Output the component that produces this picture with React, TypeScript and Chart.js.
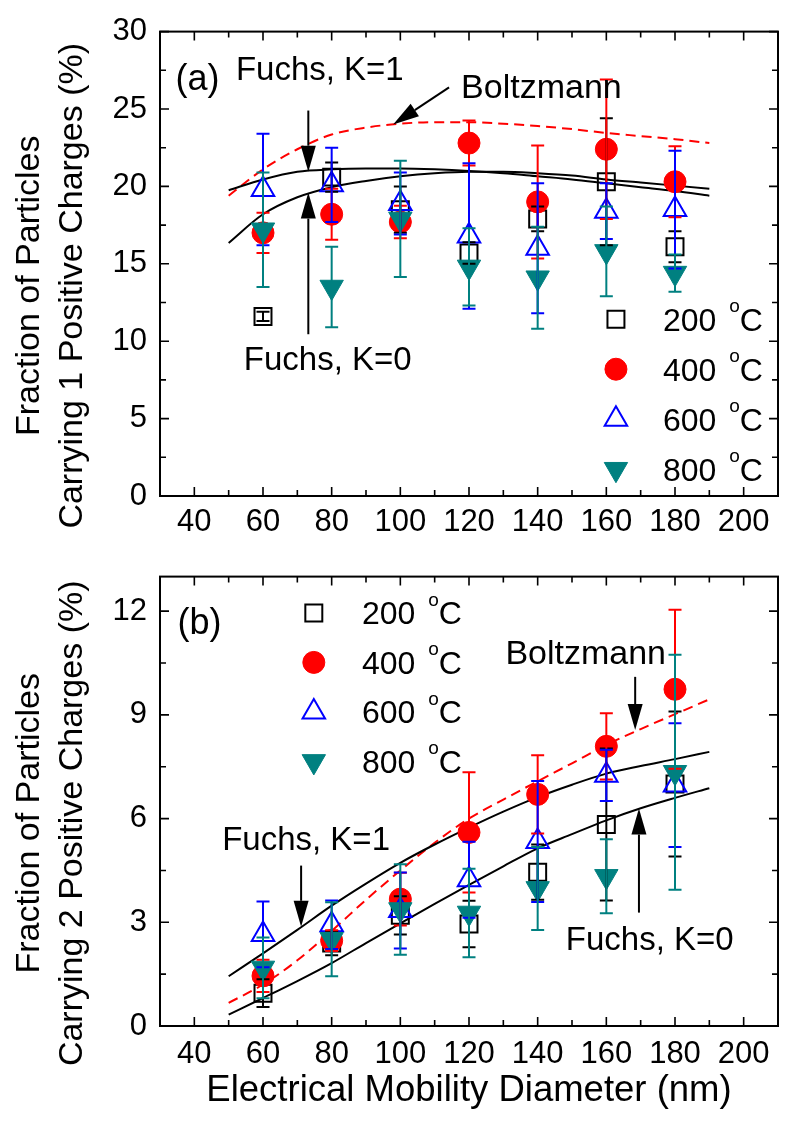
import React, { useEffect, useRef } from 'react';
import { Chart, registerables } from 'chart.js';

Chart.register(...registerables);

const FONT = '"Liberation Sans", Arial, Helvetica, sans-serif';
Chart.defaults.font.family = FONT;
Chart.defaults.color = '#000000';

// ---------- data ----------
const diameters = [60, 80, 100, 120, 140, 160, 180];
const curveDiameters = [50, 60, 70, 80, 90, 100, 110, 120, 130, 140, 150, 160, 170, 180, 190];
const xTickValues = [40, 60, 80, 100, 120, 140, 160, 180, 200];
const seriesLabels = ['200', '400', '600', '800'];

// panel (a): fraction carrying 1 positive charge (%)
const aTicks = [0, 5, 10, 15, 20, 25, 30];
const a200 = [11.6, 20.6, 18.5, 15.7, 17.9, 20.3, 16.1];
const a200Err = [0.3, 0.95, 1.5, 0.7, 0.8, 4.1, 1.0];
const a400 = [17.0, 18.2, 17.7, 22.8, 19.0, 22.4, 20.3];
const a400Err = [1.3, 1.65, 1.05, 1.45, 3.65, 4.5, 2.3];
const a600 = [19.8, 20.1, 18.9, 16.8, 16.0, 18.4, 18.5];
const a600Err = [3.6, 2.4, 2.0, 4.7, 4.2, 1.8, 3.8];
const a800 = [17.2, 13.5, 17.9, 14.8, 14.1, 15.8, 14.4];
const a800Err = [3.7, 2.6, 3.75, 2.5, 3.3, 2.9, 1.2];
const aFuchsK1 = [19.75, 20.45, 20.95, 21.1, 21.15, 21.15, 21.1, 21.0, 20.85, 20.65, 20.45, 20.2, 19.95, 19.7, 19.4];
const aFuchsK0 = [16.35, 18.2, 19.3, 19.95, 20.35, 20.65, 20.85, 20.95, 20.95, 20.85, 20.7, 20.45, 20.25, 20.05, 19.85];
const aBoltzmann = [19.4, 21.1, 22.4, 23.35, 23.8, 24.05, 24.15, 24.15, 24.05, 23.9, 23.7, 23.45, 23.25, 23.05, 22.8];

// panel (b): fraction carrying 2 positive charges (%)
const bTicks = [0, 3, 6, 9, 12];
const b200 = [0.95, 2.4, 3.2, 2.95, 4.45, 5.83, 7.0];
const b200Err = [0.4, 0.35, 0.55, 0.67, 0.8, 2.2, 2.1];
const b400 = [1.45, 2.47, 3.67, 5.6, 6.7, 8.09, 9.74];
const b400Err = [0.47, 0.3, 0.76, 1.74, 1.13, 0.96, 2.3];
const b600 = [2.65, 2.93, 3.34, 4.23, 5.34, 7.25, 6.97];
const b600Err = [0.95, 0.7, 1.1, 1.1, 1.75, 0.74, 1.79];
const b800 = [1.68, 2.51, 3.37, 3.27, 3.98, 4.33, 7.34];
const b800Err = [0.88, 1.07, 1.31, 1.28, 1.2, 1.07, 3.4];
const bFuchsK1 = [1.44, 2.1, 2.78, 3.48, 4.12, 4.72, 5.25, 5.74, 6.2, 6.62, 6.98, 7.3, 7.52, 7.72, 7.93];
const bFuchsK0 = [0.33, 0.81, 1.3, 1.82, 2.4, 2.97, 3.53, 4.08, 4.62, 5.14, 5.55, 5.95, 6.3, 6.6, 6.88];
const bBoltzmann = [0.67, 1.2, 1.9, 2.75, 3.65, 4.5, 5.3, 6.0, 6.55, 7.08, 7.6, 8.13, 8.59, 9.02, 9.45];

const yTitleA = ['Fraction of Particles', 'Carrying 1 Positive Charges (%)'];
const yTitleB = ['Fraction of Particles', 'Carrying 2 Positive Charges (%)'];
const xTitleText = 'Electrical Mobility Diameter (nm)';

// ---------- styles ----------
type Marker = { color: string; shape: 'rect' | 'circle' | 'triangle'; radius: number; filled: boolean; rotation: number };
const markers: Marker[] = [
  { color: '#000000', shape: 'rect', radius: 12, filled: false, rotation: 0 },
  { color: '#ff0000', shape: 'circle', radius: 11, filled: true, rotation: 0 },
  { color: '#0000ff', shape: 'triangle', radius: 13, filled: false, rotation: 0 },
  { color: '#008080', shape: 'triangle', radius: 13.5, filled: true, rotation: 180 },
];

type TextItem = { text: string; x: number; y: number; size: number };
type ArrowItem = { x1: number; y1: number; x2: number; y2: number };
type Panel = {
  height: number;
  topPad: number;
  xAxisHeight: number;
  tickPad: number;
  yMax: number;
  yTicks: number[];
  yTitle: string[];
  xTitle: string | null;
  series: number[][];
  errors: number[][];
  curves: { values: number[]; color: string; dash: number[] }[];
  texts: TextItem[];
  arrows: ArrowItem[];
  legend: { markerX: number; textX: number; firstY: number; step: number };
};

const panelA: Panel = {
  height: 545,
  topPad: 25,
  xAxisHeight: 49,
  tickPad: 8,
  yMax: 30,
  yTicks: aTicks,
  yTitle: yTitleA,
  xTitle: null,
  series: [a200, a400, a600, a800],
  errors: [a200Err, a400Err, a600Err, a800Err],
  curves: [
    { values: aFuchsK1, color: '#000000', dash: [] },
    { values: aFuchsK0, color: '#000000', dash: [] },
    { values: aBoltzmann, color: '#ff0000', dash: [10, 6] },
  ],
  texts: [
    { text: '(a)', x: 34.5, y: 26.2, size: 36 },
    { text: 'Fuchs, K=1', x: 52.1, y: 26.9, size: 33 },
    { text: 'Boltzmann', x: 117.7, y: 25.7, size: 34 },
    { text: 'Fuchs, K=0', x: 54.4, y: 8.15, size: 33 },
  ],
  arrows: [
    { x1: 73.2, y1: 24.9, x2: 73.2, y2: 20.95 },
    { x1: 73.2, y1: 10.45, x2: 73.2, y2: 19.6 },
    { x1: 114.2, y1: 26.4, x2: 97.9, y2: 24.0 },
  ],
  legend: { markerX: 162.8, textX: 176.5, firstY: 11.42, step: 50 },
};

const panelB: Panel = {
  height: 577,
  topPad: 10,
  xAxisHeight: 96,
  tickPad: 10,
  yMax: 13,
  yTicks: bTicks,
  yTitle: yTitleB,
  xTitle: xTitleText,
  series: [b200, b400, b600, b800],
  errors: [b200Err, b400Err, b600Err, b800Err],
  curves: [
    { values: bFuchsK1, color: '#000000', dash: [] },
    { values: bFuchsK0, color: '#000000', dash: [] },
    { values: bBoltzmann, color: '#ff0000', dash: [10, 6] },
  ],
  texts: [
    { text: '(b)', x: 35.1, y: 11.34, size: 36 },
    { text: 'Fuchs, K=1', x: 48.1, y: 5.1, size: 33 },
    { text: 'Boltzmann', x: 130.6, y: 10.46, size: 34 },
    { text: 'Fuchs, K=0', x: 148.2, y: 2.21, size: 33 },
  ],
  arrows: [
    { x1: 71.1, y1: 4.64, x2: 71.1, y2: 2.87 },
    { x1: 168.4, y1: 10.1, x2: 168.4, y2: 8.56 },
    { x1: 169.5, y1: 3.28, x2: 169.5, y2: 6.29 },
  ],
  legend: { markerX: 74.8, textX: 88.8, firstY: 11.95, step: 49.5 },
};

// ---------- drawing helpers ----------
function drawMarker(ctx: CanvasRenderingContext2D, m: Marker, x: number, y: number) {
  ctx.save();
  ctx.beginPath();
  if (m.shape === 'circle') {
    ctx.arc(x, y, m.radius, 0, Math.PI * 2);
  } else if (m.shape === 'rect') {
    const s = Math.SQRT1_2 * m.radius;
    ctx.rect(x - s, y - s, 2 * s, 2 * s);
  } else {
    let rad = (m.rotation * Math.PI) / 180;
    for (let i = 0; i < 3; i++) {
      const px = x + Math.sin(rad) * m.radius;
      const py = y - Math.cos(rad) * m.radius;
      if (i === 0) ctx.moveTo(px, py);
      else ctx.lineTo(px, py);
      rad += (2 * Math.PI) / 3;
    }
    ctx.closePath();
  }
  if (m.filled) {
    ctx.fillStyle = m.color;
    ctx.fill();
  }
  ctx.strokeStyle = m.color;
  ctx.lineWidth = m.filled ? 1 : 2;
  ctx.stroke();
  ctx.restore();
}

function drawArrow(ctx: CanvasRenderingContext2D, x1: number, y1: number, x2: number, y2: number) {
  const ang = Math.atan2(y2 - y1, x2 - x1);
  const headLen = 26;
  const half = 7.5;
  const bx = x2 - headLen * Math.cos(ang);
  const by = y2 - headLen * Math.sin(ang);
  ctx.beginPath();
  ctx.moveTo(x1, y1);
  ctx.lineTo(bx, by);
  ctx.stroke();
  ctx.beginPath();
  ctx.moveTo(x2, y2);
  ctx.lineTo(bx + half * Math.sin(ang), by - half * Math.cos(ang));
  ctx.lineTo(bx - half * Math.sin(ang), by + half * Math.cos(ang));
  ctx.closePath();
  ctx.fill();
}

function makePlugin(p: Panel) {
  return {
    id: 'panelDecor',
    afterDatasetsDraw(chart: any) {
      const { ctx } = chart;
      const xs = chart.scales.x;
      const ys = chart.scales.y;
      ctx.save();
      ctx.lineWidth = 2;
      p.series.forEach((vals, si) => {
        const color = markers[si].color;
        ctx.strokeStyle = color;
        ctx.beginPath();
        vals.forEach((v, i) => {
          const e = p.errors[si][i];
          const px = xs.getPixelForValue(diameters[i]);
          const yHi = ys.getPixelForValue(v + e);
          const yLo = ys.getPixelForValue(v - e);
          ctx.moveTo(px, yHi);
          ctx.lineTo(px, yLo);
          ctx.moveTo(px - 6.5, yHi);
          ctx.lineTo(px + 6.5, yHi);
          ctx.moveTo(px - 6.5, yLo);
          ctx.lineTo(px + 6.5, yLo);
        });
        ctx.stroke();
      });
      ctx.restore();
    },
    afterDraw(chart: any) {
      const { ctx, chartArea } = chart;
      const { left, right, top, bottom } = chartArea;
      const xs = chart.scales.x;
      const ys = chart.scales.y;
      ctx.save();
      // frame
      ctx.strokeStyle = '#000';
      ctx.lineWidth = 2;
      ctx.strokeRect(left, top, right - left, bottom - top);
      // inward ticks on all four sides
      const majX = xs.ticks.map((t: any) => t.value);
      const minX = majX.slice(1).map((v: number, i: number) => (v + majX[i]) / 2);
      const majY = ys.ticks.map((t: any) => t.value);
      const minY = majY.slice(1).map((v: number, i: number) => (v + majY[i]) / 2);
      ctx.lineWidth = 1.6;
      ctx.beginPath();
      const xt = (vals: number[], len: number) => vals.forEach((v) => {
        const px = xs.getPixelForValue(v);
        ctx.moveTo(px, bottom);
        ctx.lineTo(px, bottom - len);
        ctx.moveTo(px, top);
        ctx.lineTo(px, top + len);
      });
      const yt = (vals: number[], len: number) => vals.forEach((v) => {
        const py = ys.getPixelForValue(v);
        ctx.moveTo(left, py);
        ctx.lineTo(left + len, py);
        ctx.moveTo(right, py);
        ctx.lineTo(right - len, py);
      });
      xt(majX, 9);
      xt(minX, 6);
      yt(majY, 9);
      yt(minY, 6);
      ctx.stroke();

      // annotations
      ctx.fillStyle = '#000';
      ctx.strokeStyle = '#000';
      ctx.textAlign = 'left';
      ctx.textBaseline = 'alphabetic';
      p.texts.forEach((t) => {
        ctx.font = `${t.size}px ${FONT}`;
        ctx.fillText(t.text, xs.getPixelForValue(t.x), ys.getPixelForValue(t.y));
      });
      ctx.lineWidth = 2;
      p.arrows.forEach((a) => {
        drawArrow(ctx, xs.getPixelForValue(a.x1), ys.getPixelForValue(a.y1), xs.getPixelForValue(a.x2), ys.getPixelForValue(a.y2));
      });

      // legend
      const lg = p.legend;
      const mx = xs.getPixelForValue(lg.markerX);
      const tx = xs.getPixelForValue(lg.textX);
      const y0 = ys.getPixelForValue(lg.firstY);
      seriesLabels.forEach((lab, i) => {
        const cy = y0 + i * lg.step;
        drawMarker(ctx, markers[i], mx, cy);
        ctx.fillStyle = '#000';
        ctx.font = `32px ${FONT}`;
        ctx.fillText(lab, tx, cy + 11.5);
        const w = ctx.measureText(lab).width;
        const ox = tx + w + 13;
        ctx.font = `19px ${FONT}`;
        ctx.fillText('o', ox, cy - 7);
        ctx.font = `32px ${FONT}`;
        ctx.fillText('C', ox + 10.5, cy + 11.5);
      });

      // y-axis title (two lines, rotated)
      ctx.font = `34px ${FONT}`;
      ctx.textAlign = 'center';
      ctx.textBaseline = 'middle';
      const cyT = (top + bottom) / 2 + 22;
      const lineX = [30, 73];
      p.yTitle.forEach((line, i) => {
        ctx.save();
        ctx.translate(lineX[i], cyT);
        ctx.rotate(-Math.PI / 2);
        ctx.fillText(line, 0, 0);
        ctx.restore();
      });
      ctx.restore();
    },
  };
}

function makeConfig(p: Panel): any {
  const datasets: any[] = [];
  p.curves.forEach((c) => {
    datasets.push({
      data: curveDiameters.map((x, i) => ({ x, y: c.values[i] })),
      showLine: true,
      pointRadius: 0,
      borderColor: c.color,
      borderWidth: 2,
      borderDash: c.dash,
      cubicInterpolationMode: 'monotone',
      fill: false,
      order: 10,
    });
  });
  p.series.forEach((vals, si) => {
    const m = markers[si];
    datasets.push({
      label: seriesLabels[si],
      data: diameters.map((x, i) => ({ x, y: vals[i] })),
      showLine: false,
      pointStyle: m.shape,
      pointRadius: m.radius,
      pointRotation: m.rotation,
      pointBorderWidth: m.filled ? 1 : 2,
      pointBorderColor: m.color,
      pointBackgroundColor: m.filled ? m.color : 'rgba(0,0,0,0)',
      borderColor: m.color,
      backgroundColor: m.filled ? m.color : 'rgba(0,0,0,0)',
      order: 4 - si,
    });
  });
  return {
    type: 'scatter',
    data: { datasets },
    options: {
      animation: false,
      responsive: false,
      events: [],
      layout: { padding: { left: 0, right: 2, top: p.topPad, bottom: 0 } },
      plugins: { legend: { display: false }, tooltip: { enabled: false } },
      scales: {
        x: {
          type: 'linear',
          min: 30,
          max: 210,
          afterBuildTicks: (s: any) => {
            s.ticks = xTickValues.map((v) => ({ value: v }));
          },
          afterFit: (s: any) => {
            s.height = p.xAxisHeight;
          },
          grid: { display: false, drawTicks: false },
          border: { display: false },
          ticks: { font: { size: 31 }, color: '#000', padding: p.tickPad, maxRotation: 0, autoSkip: false },
          title: {
            display: !!p.xTitle,
            text: p.xTitle || '',
            font: { size: 36.5 },
            color: '#000',
            padding: { top: 0, bottom: 9 },
          },
        },
        y: {
          type: 'linear',
          min: 0,
          max: p.yMax,
          afterBuildTicks: (s: any) => {
            s.ticks = p.yTicks.map((v) => ({ value: v }));
          },
          afterFit: (s: any) => {
            s.width = 160;
          },
          grid: { display: false, drawTicks: false },
          border: { display: false },
          ticks: { font: { size: 31 }, color: '#000', padding: 13, autoSkip: false },
        },
      },
    },
    plugins: [makePlugin(p)],
  };
}

export default function App() {
  const refA = useRef<HTMLCanvasElement | null>(null);
  const refB = useRef<HTMLCanvasElement | null>(null);

  useEffect(() => {
    const charts: Chart[] = [];
    if (refA.current) charts.push(new Chart(refA.current, makeConfig(panelA)));
    if (refB.current) charts.push(new Chart(refB.current, makeConfig(panelB)));
    return () => charts.forEach((c) => c.destroy());
  }, []);

  return (
    <div style={{ position: 'absolute', left: 0, top: 0, width: 793, height: 1122, background: '#ffffff' }}>
      <canvas ref={refA} width={793} height={545} style={{ position: 'absolute', left: 0, top: 0 }} />
      <canvas ref={refB} width={793} height={577} style={{ position: 'absolute', left: 0, top: 545 }} />
    </div>
  );
}
